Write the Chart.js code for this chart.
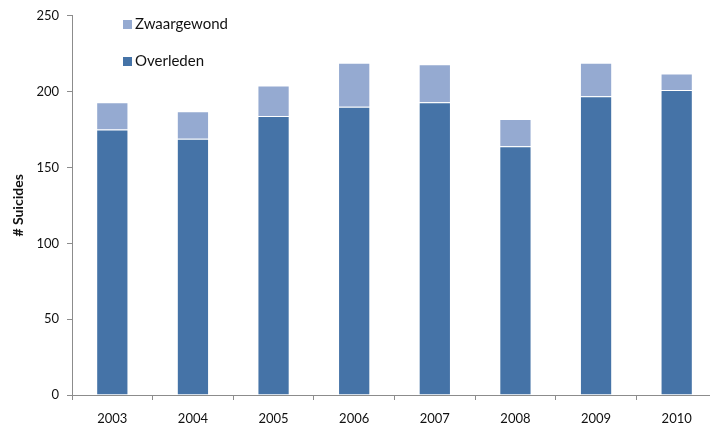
<!DOCTYPE html>
<html>
<head>
<meta charset="utf-8">
<script src="https://cdn.jsdelivr.net/npm/chart.js@4/dist/chart.umd.min.js"></script>
<style>
  html, body { margin: 0; padding: 0; background: #fff; overflow: hidden; }
  #wrap { width: 710px; height: 428px; overflow: hidden; }
</style>
</head>
<body>
<div id="wrap"><canvas id="myChart" width="717" height="428"></canvas></div>
<script>
var years = ["2003", "2004", "2005", "2006", "2007", "2008", "2009", "2010"];
var overleden = [175, 169, 184, 190, 193, 164, 197, 201];
var zwaargewond = [18, 18, 20, 29, 25, 18, 22, 11];
var yTicks = [0, 50, 100, 150, 200, 250];

var darkBlue = "#4573A7";
var lightBlue = "#95AAD1";
var axisGrey = "#8c8c8c";

// legend sits inside the plot, top left, Zwaargewond first
var insideLegend = {
    id: "insideLegend",
    afterDraw: function (chart) {
        var ctx = chart.ctx;
        var sets = chart.data.datasets.slice().reverse();
        ctx.save();
        ctx.font = "15px Lato";
        ctx.textBaseline = "middle";
        sets.forEach(function (ds, i) {
            var y = 24 + i * 37;
            ctx.fillStyle = ds.backgroundColor;
            ctx.fillRect(123, y - 4, 9, 9);
            ctx.fillStyle = "#111";
            ctx.fillText(ds.label, 135, y);
        });
        ctx.restore();
    }
};

new Chart(document.getElementById("myChart"), {
    type: "bar",
    data: {
        labels: years,
        datasets: [{
            label: "Overleden",
            data: overleden,
            backgroundColor: darkBlue,
            borderColor: "rgba(255,255,255,0.3)",
            borderWidth: 1
        }, {
            label: "Zwaargewond",
            data: zwaargewond,
            backgroundColor: lightBlue,
            borderColor: "rgba(255,255,255,0.4)",
            borderWidth: 1
        }]
    },
    options: {
        responsive: false,
        animation: false,
        devicePixelRatio: 1,
        layout: { padding: { top: 15, right: 0, bottom: 0, left: 0 } },
        plugins: {
            legend: { display: false },
            tooltip: { enabled: false }
        },
        datasets: {
            bar: { barPercentage: 0.4, categoryPercentage: 1.0 }
        },
        scales: {
            x: {
                stacked: true,
                grid: {
                    offset: true,
                    drawOnChartArea: false,
                    drawTicks: true,
                    tickLength: 5,
                    color: axisGrey
                },
                border: { color: axisGrey },
                ticks: {
                    color: "#111",
                    font: { family: "Lato", size: 13 },
                    padding: 11,
                    maxRotation: 0
                },
                afterFit: function (scale) { scale.height = 33; }
            },
            y: {
                stacked: true,
                min: 0,
                max: 250,
                afterBuildTicks: function (scale) {
                    scale.ticks = yTicks.map(function (v) { return { value: v }; });
                },
                grid: {
                    drawOnChartArea: false,
                    drawTicks: true,
                    tickLength: 5,
                    color: axisGrey
                },
                border: { color: axisGrey },
                ticks: {
                    color: "#111",
                    font: { family: "Lato", size: 13 },
                    padding: 8
                },
                title: {
                    display: true,
                    text: "# Suicides",
                    color: "#111",
                    font: { family: "Lato", size: 14, weight: "bold" },
                    padding: { top: 10, bottom: 0 }
                },
                afterFit: function (scale) { scale.width = 72; }
            }
        }
    },
    plugins: [insideLegend]
});
</script>
</body>
</html>
